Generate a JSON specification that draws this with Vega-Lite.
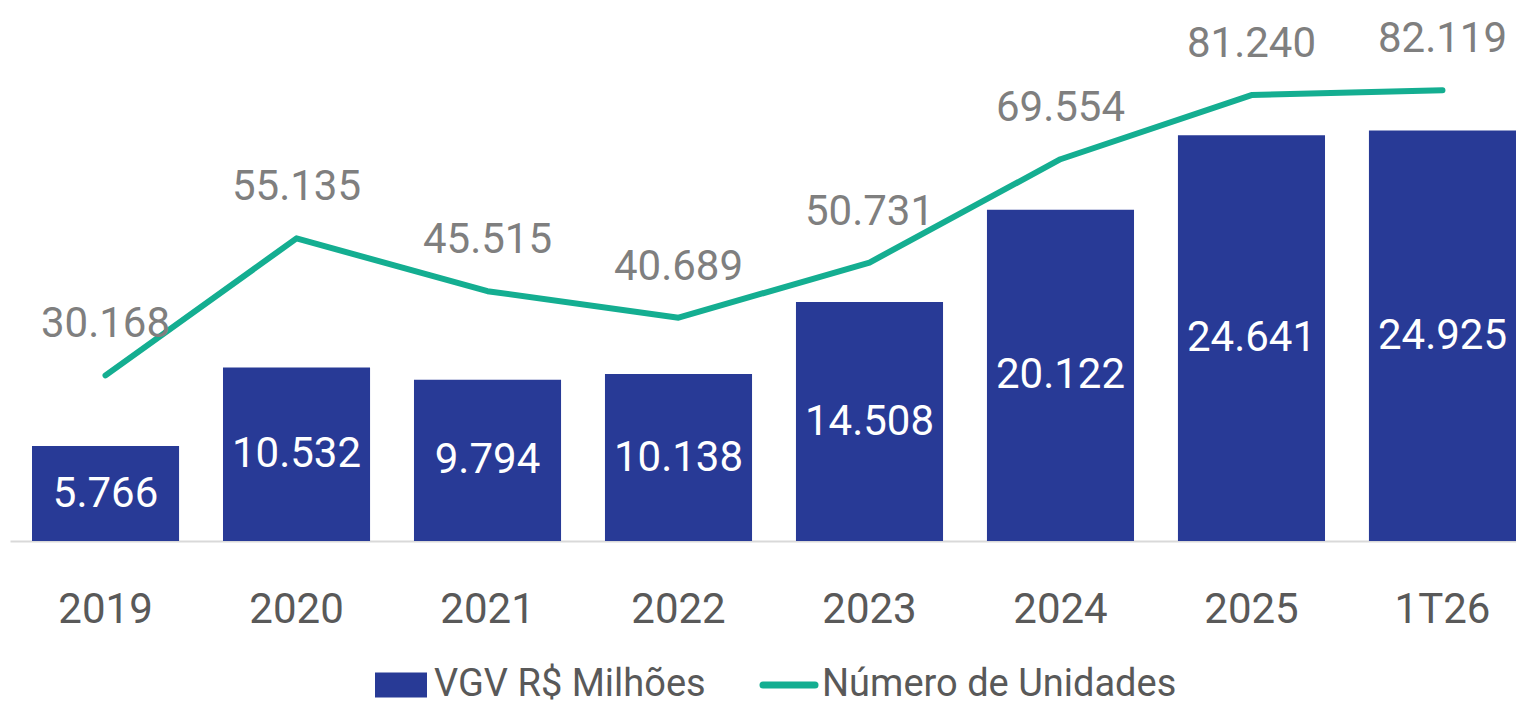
{
  "$schema": "https://vega.github.io/schema/vega-lite/v6.json",
  "width": 1506,
  "height": 494,
  "autosize": "none",
  "padding": {"left": 10, "top": 47, "right": 0, "bottom": 166},
  "background": "white",
  "config": {
    "view": {"stroke": null},
    "font": "Roboto",
    "locale": {"number": {"decimal": ",", "thousands": ".", "grouping": [3], "currency": ["R$", ""]}}
  },
  "data": {
    "values": [
      {"ano": "2019", "vgv": 5766, "unidades": 30168},
      {"ano": "2020", "vgv": 10532, "unidades": 55135},
      {"ano": "2021", "vgv": 9794, "unidades": 45515},
      {"ano": "2022", "vgv": 10138, "unidades": 40689},
      {"ano": "2023", "vgv": 14508, "unidades": 50731},
      {"ano": "2024", "vgv": 20122, "unidades": 69554},
      {"ano": "2025", "vgv": 24641, "unidades": 81240},
      {"ano": "1T26", "vgv": 24925, "unidades": 82119}
    ]
  },
  "layer": [
    {
      "mark": {"type": "bar"},
      "encoding": {
        "x": {
          "field": "ano", "type": "nominal", "sort": null,
          "scale": {"paddingInner": 0.23, "paddingOuter": 0.0576, "align": 1},
          "axis": {"title": null, "labelAngle": 0, "labelFont": "Roboto", "labelFontSize": 42, "labelColor": "#595959", "labelPadding": 48, "ticks": false, "domainColor": "#d9d9d9", "domainWidth": 2, "grid": false}
        },
        "y": {"field": "vgv", "type": "quantitative", "scale": {"domain": [0, 30000], "nice": false, "zero": true}, "axis": null},
        "color": {
          "datum": "VGV R$ Milhões",
          "scale": {"domain": ["VGV R$ Milhões", "Número de Unidades"], "range": ["#283a96", "#14ae91"]},
          "legend": {
            "title": null,
            "orient": "none",
            "legendX": 372,
            "legendY": 619,
            "direction": "horizontal",
            "symbolSize": 2704,
            "labelFont": "Roboto",
            "labelFontSize": 38,
            "labelColor": "#595959",
            "labelOffset": 14,
            "labelLimit": 1000,
            "columnPadding": 43,
            "symbolOpacity": 1,
            "encode": {
              "symbols": {
                "update": {
                  "shape": {"signal": "datum.value === 'VGV R$ Milhões' ? 'M-1,-0.48H1V0.48H-1Z' : 'stroke'"},
                  "fill": {"signal": "datum.value === 'VGV R$ Milhões' ? '#283a96' : 'transparent'"},
                  "stroke": {"signal": "datum.value === 'VGV R$ Milhões' ? 'transparent' : '#14ae91'"},
                  "strokeWidth": {"signal": "datum.value === 'VGV R$ Milhões' ? 0 : 7"},
                  "strokeCap": {"value": "round"},
                  "opacity": {"value": 1}
                }
              }
            }
          }
        }
      }
    },
    {
      "mark": {"type": "text", "color": "white", "font": "Roboto", "fontSize": 42, "baseline": "middle", "align": "center"},
      "encoding": {
        "x": {"field": "ano", "type": "nominal", "sort": null},
        "y": {"field": "vgv", "type": "quantitative", "scale": {"domain": [0, 60000], "nice": false, "zero": true}, "axis": null},
        "text": {"field": "vgv", "type": "quantitative", "format": ",d"}
      }
    },
    {
      "mark": {"type": "line", "strokeWidth": 6, "strokeCap": "round", "strokeJoin": "round"},
      "encoding": {
        "x": {"field": "ano", "type": "nominal", "sort": null},
        "y": {"field": "unidades", "type": "quantitative", "scale": {"domain": [0, 90000], "nice": false, "zero": true}, "axis": null},
        "color": {"datum": "Número de Unidades"}
      }
    },
    {
      "mark": {"type": "text", "color": "#7f7f7f", "font": "Roboto", "fontSize": 42, "baseline": "middle", "align": "center", "dy": -51},
      "encoding": {
        "x": {"field": "ano", "type": "nominal", "sort": null},
        "y": {"field": "unidades", "type": "quantitative", "scale": {"domain": [0, 90000], "nice": false, "zero": true}, "axis": null},
        "text": {"field": "unidades", "type": "quantitative", "format": ",d"}
      }
    }
  ],
  "resolve": {"scale": {"y": "independent"}}
}
